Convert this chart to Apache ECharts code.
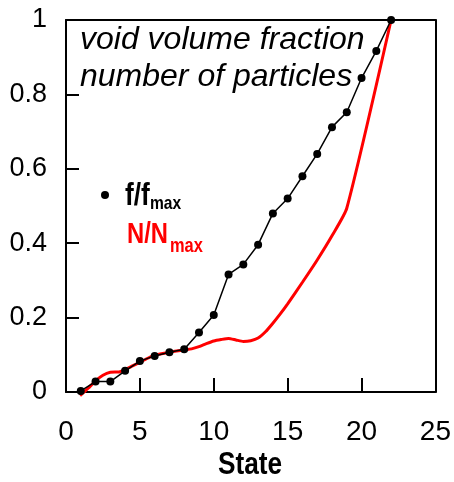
<!DOCTYPE html>
<html><head><meta charset="utf-8">
<script src="https://cdn.jsdelivr.net/npm/echarts@6/dist/echarts.min.js"></script>
<style>html,body{margin:0;padding:0;background:#fff}#c{width:454px;height:482px}</style>
</head><body><div id="c"></div>
<script>
// Black series: f/f_max at each state
const states = [1,2,3,4,5,6,7,8,9,10,11,12,13,14,15,16,17,18,19,20,21,22];
const voidFraction = [0.003,0.028,0.028,0.057,0.083,0.097,0.107,0.115,0.16,0.207,0.316,0.343,0.396,0.48,0.52,0.58,0.64,0.712,0.752,0.844,0.917,1.0];
// Red series: N/N_max, traced curve (state, value)
const redStates = [0.95,1.5,2,2.5,3,3.6,4,4.5,5,5.5,6,7,8,8.5,9,9.5,10,10.5,11,11.5,12,12.5,13,13.5,14,14.5,15,16,17,18,19,22];
const particleFraction = [-0.01,0.01,0.03,0.045,0.053,0.054,0.06,0.07,0.08,0.09,0.099,0.107,0.113,0.116,0.122,0.13,0.137,0.141,0.144,0.14,0.136,0.138,0.145,0.162,0.185,0.21,0.237,0.295,0.355,0.42,0.494,1.0];
const xTicks = [0,5,10,15,20,25];
const yTicks = [0,0.2,0.4,0.6,0.8,1];

const chart = echarts.init(document.getElementById('c'));
const FONT = '"Liberation Sans", Arial, sans-serif';
const NX = 0.82; // horizontal squeeze to emulate a narrow face
const xMin = xTicks[0], xMax = xTicks[xTicks.length-1];
const yMin = yTicks[0], yMax = yTicks[yTicks.length-1];
const frame = {show: true, onZero: false, lineStyle: {color: '#000', width: 2}};
chart.setOption({
  animation: false,
  backgroundColor: '#fff',
  grid: {left: 66, right: 14, top: 20, bottom: 90, show: false},
  xAxis: [{
    type: 'value', min: xMin, max: xMax, interval: 5, position: 'bottom',
    axisLine: frame,
    axisTick: {show: true, inside: true, length: 14, lineStyle: {color: '#000', width: 2}},
    axisLabel: {show: true, color: '#000', fontFamily: FONT, fontSize: 28, margin: 26},
    splitLine: {show: false}
  }, {
    type: 'value', min: xMin, max: xMax, interval: 5, position: 'top',
    axisLine: frame, axisTick: {show: false}, axisLabel: {show: false}, splitLine: {show: false}
  }],
  yAxis: [{
    type: 'value', min: yMin, max: yMax, interval: 0.2, position: 'left',
    axisLine: frame,
    axisTick: {show: true, inside: true, length: 13, lineStyle: {color: '#000', width: 2}},
    axisLabel: {show: true, color: '#000', fontFamily: FONT, fontSize: 27, margin: 19},
    splitLine: {show: false}
  }, {
    type: 'value', min: yMin, max: yMax, interval: 0.2, position: 'right',
    axisLine: frame, axisTick: {show: false}, axisLabel: {show: false}, splitLine: {show: false}
  }],
  series: [
    {
      name: 'N/Nmax', type: 'line', clip: false, showSymbol: false, symbol: 'none', smooth: 0.2,
      lineStyle: {color: '#ff0000', width: 3},
      data: redStates.map((s, i) => [s, particleFraction[i]]),
      z: 2
    },
    {
      name: 'f/fmax', type: 'line', clip: false, symbol: 'circle', symbolSize: 8,
      itemStyle: {color: '#000'},
      lineStyle: {color: '#000', width: 1.5},
      data: states.map((s, i) => [s, voidFraction[i]]),
      z: 3
    }
  ],
  graphic: [
    {type: 'text', x: 80, y: 24, style: {text: 'void volume fraction', font: 'italic 32px ' + FONT, fill: '#000'}},
    {type: 'text', x: 80, y: 61, style: {text: 'number of particles', font: 'italic 32px ' + FONT, fill: '#000'}},
    {type: 'circle', shape: {cx: 105, cy: 195, r: 4}, style: {fill: '#000'}},
    {type: 'text', x: 125, y: 180, scaleX: NX, style: {text: 'f/f', font: 'bold 32px ' + FONT, fill: '#000'}},
    {type: 'text', x: 150, y: 194, scaleX: NX, style: {text: 'max', font: 'bold 19px ' + FONT, fill: '#000'}},
    {type: 'text', x: 127, y: 220, scaleX: NX, style: {text: 'N/N', font: 'bold 29px ' + FONT, fill: '#ff0000'}},
    {type: 'text', x: 170, y: 236, scaleX: NX, style: {text: 'max', font: 'bold 20px ' + FONT, fill: '#ff0000'}},
    {type: 'text', x: 250, y: 449, scaleX: NX, style: {text: 'State', font: 'bold 32px ' + FONT, fill: '#000', align: 'center'}}
  ]
});
</script></body></html>
